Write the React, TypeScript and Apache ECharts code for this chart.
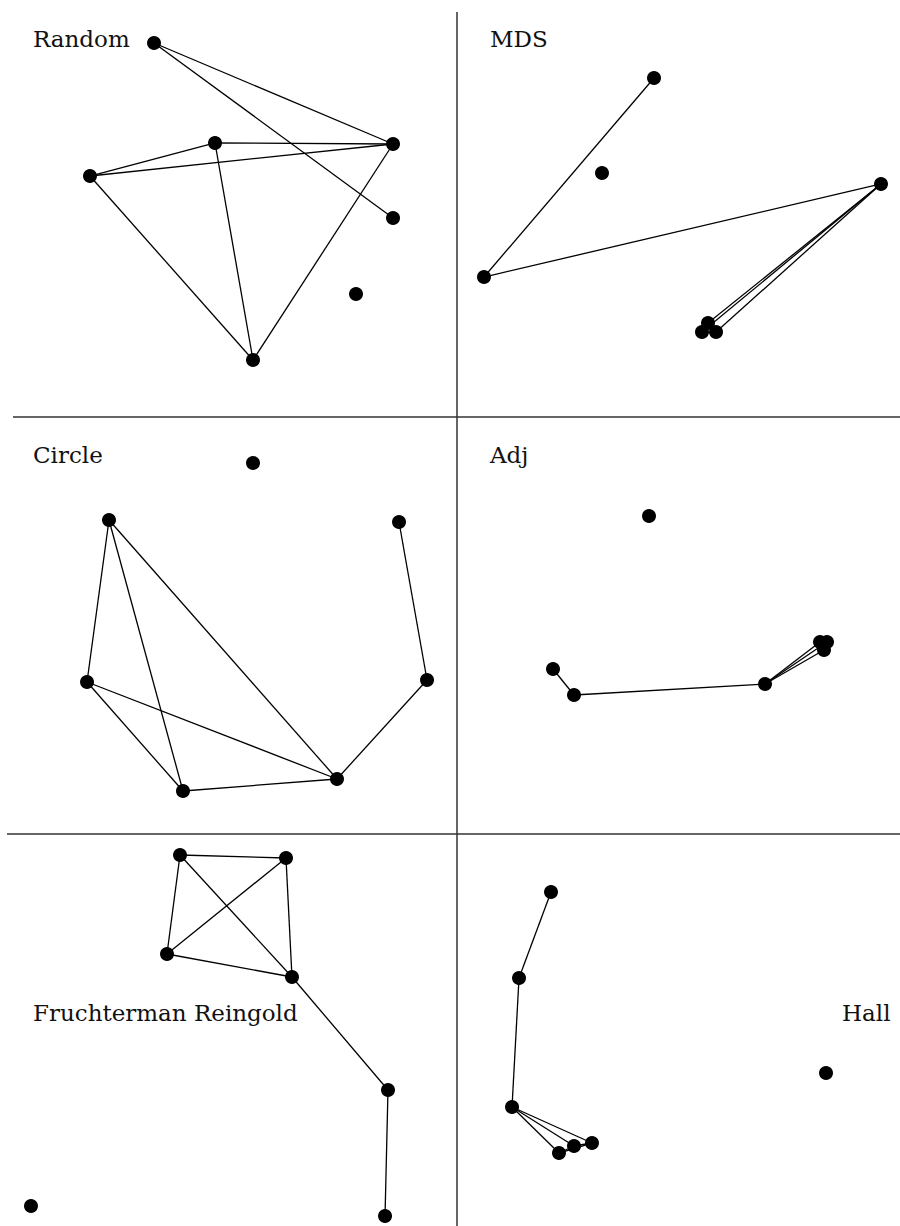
import React, { useEffect, useRef } from "react";
import * as echarts from "echarts";

// Layout titles
const titles = ["Random", "MDS", "Circle", "Adj", "Fruchterman Reingold", "Hall"];

// Node order: a, b, c, S (K4), T, U (path S-T-U), V (isolated)
const randomX = [47.05, 19.69, 55.36, 86.0, 33.7, 86.0, 77.9];
const randomY = [65.71, 57.79, 13.67, 65.47, 89.69, 47.72, 29.5];

const mdsX = [55.3, 56.66, 58.47, 95.71, 6.09, 44.47, 32.73];
const mdsY = [20.38, 22.54, 20.38, 55.88, 33.57, 81.29, 58.51];

const circleX = [23.85, 19.04, 40.04, 73.74, 93.44, 87.31, 55.36];
const circleY = [75.3, 36.45, 10.31, 13.19, 36.93, 74.82, 88.97];

const adjX = [81.94, 83.52, 82.84, 69.53, 26.41, 21.67, 43.34];
const adjY = [46.04, 46.04, 44.12, 35.97, 33.33, 39.57, 76.26];

const frX = [39.39, 62.58, 36.54, 63.89, 84.9, 84.25, 6.78];
const frY = [94.64, 93.88, 69.39, 63.52, 34.69, 2.55, 5.1];

const hallX = [23.02, 26.41, 30.47, 12.42, 14.0, 21.22, 83.3];
const hallY = [18.62, 20.41, 21.17, 30.36, 63.27, 85.2, 39.03];

// Edges (by node index)
const edgeSource = [0, 0, 0, 1, 1, 2, 3, 4];
const edgeTarget = [1, 2, 3, 2, 3, 3, 4, 5];

const layoutsX = [randomX, mdsX, circleX, adjX, frX, hallX];
const layoutsY = [randomY, mdsY, circleY, adjY, frY, hallY];

// Panel geometry
const panels = [
  { left: 0, top: 0, width: 457, height: 417 },
  { left: 457, top: 0, width: 443, height: 417 },
  { left: 0, top: 417, width: 457, height: 417 },
  { left: 457, top: 417, width: 443, height: 417 },
  { left: 0, top: 834, width: 457, height: 392 },
  { left: 457, top: 834, width: 443, height: 392 },
];
const titlePos = [
  [33, 39],
  [490, 39],
  [33, 455.3],
  [490, 455.3],
  [33, 1012.7],
  [842, 1013],
];

const FONT_FAMILY = "DejaVu Serif";

export default function App() {
  const ref = useRef<HTMLDivElement>(null);
  useEffect(() => {
    if (!ref.current) return;
    const chart = echarts.init(ref.current, null, { renderer: "svg" });
    const grids = panels.map((p) => ({
      left: p.left,
      top: p.top,
      width: p.width,
      height: p.height,
      containLabel: false,
    }));
    const axisBase = {
      type: "value",
      min: 0,
      max: 100,
      show: false,
      splitLine: { show: false },
    };
    const xAxes = panels.map((_, i) => ({ ...axisBase, gridIndex: i }));
    const yAxes = panels.map((_, i) => ({ ...axisBase, gridIndex: i }));
    const links = edgeSource.map((s, k) => ({ source: s, target: edgeTarget[k] }));
    const series = layoutsX.map((xs, i) => ({
      type: "graph",
      coordinateSystem: "cartesian2d",
      xAxisIndex: i,
      yAxisIndex: i,
      data: xs.map((x, j) => [x, layoutsY[i][j]]),
      links,
      symbol: "circle",
      symbolSize: 14,
      itemStyle: { color: "#000" },
      lineStyle: { color: "#000", width: 1.3, opacity: 1 },
      label: { show: false },
      emphasis: { disabled: true },
      silent: true,
      z: 2,
    }));
    const graphic: any[] = [
      { type: "line", shape: { x1: 457, y1: 12, x2: 457, y2: 1226 }, style: { stroke: "#333", lineWidth: 1.5 } },
      { type: "line", shape: { x1: 13, y1: 417, x2: 900, y2: 417 }, style: { stroke: "#333", lineWidth: 1.5 } },
      { type: "line", shape: { x1: 7, y1: 834, x2: 900, y2: 834 }, style: { stroke: "#333", lineWidth: 1.5 } },
    ];
    titles.forEach((t, i) => {
      graphic.push({
        type: "text",
        x: titlePos[i][0],
        y: titlePos[i][1],
        style: {
          text: t,
          fontFamily: FONT_FAMILY,
          fontSize: 23,
          fill: "#111",
          align: "left",
          verticalAlign: "middle",
        },
      });
    });
    chart.setOption({
      animation: false,
      backgroundColor: "#fff",
      grid: grids,
      xAxis: xAxes,
      yAxis: yAxes,
      series,
      graphic,
    });
    return () => chart.dispose();
  }, []);
  return (
    <div
      ref={ref}
      style={{ position: "fixed", left: 0, top: 0, width: 900, height: 1226, background: "#fff" }}
    />
  );
}
